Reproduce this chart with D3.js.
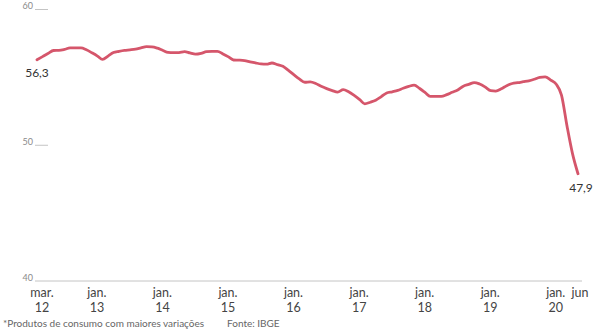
<!DOCTYPE html>
<html>
<head>
<meta charset="utf-8">
<script src="https://cdn.jsdelivr.net/npm/d3@7"></script>
<style>
  html, body { margin: 0; padding: 0; background: #fff; }
  svg { display: block; }
  text { font-family: Lato, "Open Sans", sans-serif; }
</style>
</head>
<body>
<svg id="chart" width="605" height="329"></svg>
<script>
// Monthly series, mar 2012 .. jun 2020
const startMonth = "2012-03";
const values = [
  56.3, 56.53, 56.76, 56.98, 56.99, 57.06, 57.17, 57.17, 57.17, 57.03,
  56.81, 56.57, 56.32, 56.57, 56.83, 56.92, 56.99, 57.03, 57.08, 57.17,
  57.26, 57.25, 57.15, 56.98, 56.84, 56.82, 56.83, 56.90, 56.80, 56.71,
  56.77, 56.89, 56.92, 56.92, 56.73, 56.51, 56.28, 56.27, 56.24, 56.15,
  56.07, 55.99, 55.97, 56.06, 55.94, 55.82, 55.51, 55.18, 54.89, 54.64,
  54.67, 54.55, 54.34, 54.17, 54.03, 53.92, 54.10, 53.94, 53.67, 53.36,
  53.05, 53.17, 53.32, 53.58, 53.85, 53.94, 54.04, 54.20, 54.34, 54.43,
  54.18, 53.88, 53.60, 53.60, 53.60, 53.73, 53.90, 54.07, 54.35, 54.48,
  54.62, 54.51, 54.29, 54.02, 53.99, 54.16, 54.39, 54.55, 54.61, 54.68,
  54.75, 54.86, 55.00, 55.04, 54.80, 54.49, 53.70, 51.40, 49.40, 47.9
];
const yTicks = [40, 50, 60];
const xTickDates = ["2012-03", "2013-01", "2014-01", "2015-01", "2016-01", "2017-01", "2018-01", "2019-01", "2020-01", "2020-06"];
const xTickLine1 = ["mar.", "jan.", "jan.", "jan.", "jan.", "jan.", "jan.", "jan.", "jan.", "jun"];
const xTickLine2 = ["12", "13", "14", "15", "16", "17", "18", "19", "20", ""];
const firstLabel = "56,3";
const lastLabel = "47,9";
const footnote = "*Produtos de consumo com maiores variações";
const source = "Fonte: IBGE";

const parse = d3.timeParse("%Y-%m");
const t0 = parse(startMonth);
const data = values.map((v, i) => ({ date: d3.timeMonth.offset(t0, i), value: v }));

const svg = d3.select("#chart");
const x = d3.scaleTime()
  .domain([data[0].date, data[data.length - 1].date])
  .range([37, 578]);
const y = d3.scaleLinear().domain([40, 60]).range([281, 9.5]);

const grey = "#c4c4c4";

// y ticks: short lines with labels
yTicks.forEach(t => {
  if (t !== 40) {
    svg.append("line")
      .attr("x1", 35).attr("x2", 48)
      .attr("y1", y(t)).attr("y2", y(t))
      .attr("stroke", grey).attr("stroke-width", 1);
  }
  svg.append("text")
    .attr("x", 33).attr("y", y(t) - 0.5)
    .attr("text-anchor", "end")
    .attr("font-size", 9)
    .attr("fill", "#8a8a8a")
    .text(t);
});

// baseline
svg.append("line")
  .attr("x1", 35).attr("x2", 582)
  .attr("y1", y(40)).attr("y2", y(40))
  .attr("stroke", grey).attr("stroke-width", 1);

// x tick labels
const xOff = 5;
xTickDates.forEach((d, i) => {
  const xx = x(parse(d)) + (i === xTickDates.length - 1 ? 2 : xOff);
  svg.append("text")
    .attr("x", xx).attr("y", 297)
    .attr("text-anchor", "middle")
    .attr("font-size", 12.5)
    .attr("fill", "#444")
    .text(xTickLine1[i]);
  svg.append("text")
    .attr("x", xx).attr("y", 312)
    .attr("text-anchor", "middle")
    .attr("font-size", 12.5)
    .attr("fill", "#444")
    .text(xTickLine2[i]);
});

// line
const line = d3.line()
  .x(d => x(d.date))
  .y(d => y(d.value))
  .curve(d3.curveMonotoneX);
svg.append("path")
  .datum(data)
  .attr("fill", "none")
  .attr("stroke", "#d5566b")
  .attr("stroke-width", 2.8)
  .attr("stroke-linejoin", "round")
  .attr("stroke-linecap", "round")
  .attr("d", line);

// end labels
const first = data[0], last = data[data.length - 1];
svg.append("text")
  .attr("x", x(first.date)).attr("y", y(first.value) + 17)
  .attr("text-anchor", "middle")
  .attr("font-size", 12)
  .attr("fill", "#333")
  .text(firstLabel);
svg.append("text")
  .attr("x", x(last.date) + 3).attr("y", y(last.value) + 18)
  .attr("text-anchor", "middle")
  .attr("font-size", 12)
  .attr("fill", "#333")
  .text(lastLabel);

// footnote
svg.append("text")
  .attr("x", 3).attr("y", 327)
  .attr("font-size", 10)
  .attr("fill", "#666")
  .text(footnote);
svg.append("text")
  .attr("x", 227).attr("y", 327)
  .attr("font-size", 10)
  .attr("fill", "#666")
  .text(source);
</script>
</body>
</html>
